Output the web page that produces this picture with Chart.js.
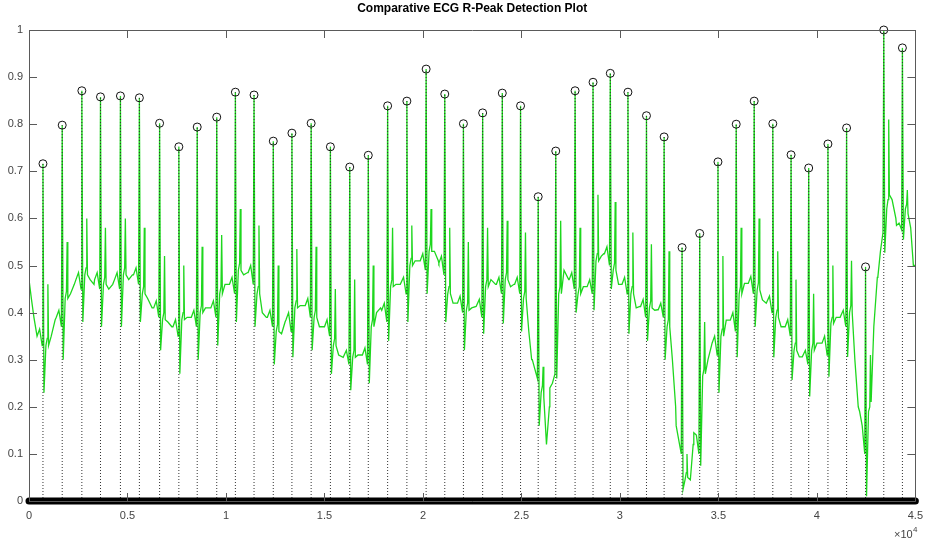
<!DOCTYPE html>
<html>
<head>
<meta charset="utf-8">
<title>Comparative ECG R-Peak Detection Plot</title>
<script src="https://cdn.jsdelivr.net/npm/chart.js@4.4.1/dist/chart.umd.min.js"></script>
<style>
  html, body { margin: 0; padding: 0; background: #fff; }
  #wrap { width: 931px; height: 540px; position: relative; }
</style>
</head>
<body>
<div id="wrap"><canvas id="ecgChart" width="931" height="540"></canvas></div>
<script>
const chartTitle = 'Comparative ECG R-Peak Detection Plot';
const xTickLabels = ['0', '0.5', '1', '1.5', '2', '2.5', '3', '3.5', '4', '4.5'];
const yTickLabels = ['0', '0.1', '0.2', '0.3', '0.4', '0.5', '0.6', '0.7', '0.8', '0.9', '1'];

// detected R-peaks (sample index, amplitude)
const peakSamples = [709, 1686, 2683, 3630, 4642, 5604, 6631, 7608, 8540, 9532,
    10478, 11425, 12402, 13348, 14325, 15302, 16284, 17226, 18208, 19185,
    20162, 21109, 22055, 23032, 24029, 24956, 25852, 26743, 27725, 28636,
    29512, 30408, 31349, 32245, 33156, 34052, 34979, 35905, 36817, 37763,
    38690, 39585, 40562, 41509, 42471, 43397, 44343];
const peakValues = [0.716, 0.798, 0.871, 0.858, 0.860, 0.856, 0.802, 0.752, 0.794, 0.815,
    0.868, 0.862, 0.764, 0.781, 0.802, 0.752, 0.709, 0.734, 0.839, 0.849,
    0.917, 0.864, 0.801, 0.824, 0.866, 0.839, 0.646, 0.743, 0.871, 0.889,
    0.908, 0.868, 0.818, 0.773, 0.538, 0.568, 0.720, 0.800, 0.849, 0.801,
    0.735, 0.707, 0.758, 0.792, 0.497, 1.000, 0.962];

// ECG trace around and between the R-peaks (sample index, amplitude)
const ecgTrace = [
    [0, 0.47], [120, 0.43], [250, 0.39],
    [409, 0.35], [539, 0.365], [669, 0.33], [759, 0.23], [859, 0.33], [924, 0.345], [959, 0.46], [994, 0.33], [1129, 0.35], [1330, 0.385],
    [1386, 0.39], [1516, 0.405], [1646, 0.37], [1736, 0.30], [1836, 0.43], [1901, 0.445], [1936, 0.55], [1971, 0.43], [2106, 0.44], [2300, 0.46],
    [2383, 0.47], [2513, 0.485], [2643, 0.45], [2733, 0.38], [2833, 0.48], [2898, 0.495], [2933, 0.60], [2968, 0.48], [3103, 0.47], [3300, 0.46],
    [3330, 0.47], [3460, 0.485], [3590, 0.45], [3680, 0.37], [3780, 0.46], [3845, 0.475], [3880, 0.58], [3915, 0.46], [4050, 0.45], [4250, 0.46],
    [4342, 0.47], [4472, 0.485], [4602, 0.45], [4692, 0.37], [4792, 0.48], [4857, 0.495], [4892, 0.60], [4927, 0.48], [5062, 0.47], [5250, 0.48],
    [5304, 0.48], [5434, 0.495], [5564, 0.46], [5654, 0.38], [5754, 0.44], [5819, 0.455], [5854, 0.58], [5889, 0.44], [6024, 0.43], [6250, 0.41],
    [6331, 0.41], [6461, 0.425], [6591, 0.39], [6681, 0.32], [6781, 0.385], [6846, 0.40], [6881, 0.52], [6916, 0.385], [7051, 0.38], [7250, 0.37],
    [7308, 0.37], [7438, 0.385], [7568, 0.35], [7658, 0.27], [7758, 0.385], [7823, 0.40], [7858, 0.50], [7893, 0.385], [8028, 0.39], [8200, 0.39],
    [8240, 0.39], [8370, 0.405], [8500, 0.37], [8590, 0.30], [8690, 0.40], [8755, 0.415], [8790, 0.54], [8825, 0.40], [8960, 0.41], [9150, 0.41],
    [9232, 0.41], [9362, 0.425], [9492, 0.39], [9582, 0.33], [9682, 0.44], [9747, 0.455], [9782, 0.565], [9817, 0.44], [9952, 0.46], [10150, 0.46],
    [10178, 0.46], [10308, 0.475], [10438, 0.44], [10528, 0.38], [10628, 0.49], [10693, 0.505], [10728, 0.62], [10763, 0.49], [10898, 0.48], [11100, 0.485],
    [11125, 0.485], [11255, 0.50], [11385, 0.46], [11475, 0.37], [11575, 0.44], [11640, 0.455], [11675, 0.585], [11710, 0.44], [11845, 0.40], [12050, 0.39],
    [12102, 0.39], [12232, 0.405], [12362, 0.37], [12452, 0.29], [12552, 0.36], [12617, 0.375], [12652, 0.50], [12687, 0.36], [12822, 0.355], [13000, 0.38],
    [13048, 0.385], [13178, 0.40], [13308, 0.36], [13398, 0.305], [13498, 0.41], [13563, 0.425], [13598, 0.535], [13633, 0.41], [13768, 0.415], [13980, 0.415],
    [14025, 0.415], [14155, 0.43], [14285, 0.39], [14375, 0.32], [14475, 0.39], [14540, 0.405], [14575, 0.54], [14610, 0.39], [14745, 0.37], [14950, 0.37],
    [15002, 0.37], [15132, 0.385], [15262, 0.35], [15352, 0.27], [15452, 0.33], [15517, 0.345], [15552, 0.45], [15587, 0.33], [15722, 0.31], [15950, 0.305],
    [15984, 0.305], [16114, 0.32], [16244, 0.29], [16334, 0.235], [16434, 0.305], [16499, 0.32], [16534, 0.47], [16569, 0.305], [16704, 0.31], [16900, 0.31],
    [16926, 0.31], [17056, 0.325], [17186, 0.29], [17276, 0.25], [17376, 0.37], [17441, 0.385], [17476, 0.50], [17511, 0.37], [17646, 0.40], [17850, 0.41],
    [17908, 0.405], [18038, 0.42], [18168, 0.38], [18258, 0.34], [18358, 0.455], [18423, 0.47], [18458, 0.58], [18493, 0.455], [18628, 0.46], [18850, 0.46],
    [18885, 0.46], [19015, 0.475], [19145, 0.44], [19235, 0.38], [19335, 0.50], [19400, 0.515], [19435, 0.585], [19470, 0.50], [19605, 0.51], [19820, 0.51],
    [19862, 0.51], [19992, 0.525], [20122, 0.49], [20212, 0.44], [20312, 0.53], [20377, 0.545], [20412, 0.62], [20447, 0.53], [20582, 0.53], [20780, 0.51],
    [20809, 0.505], [20939, 0.52], [21069, 0.48], [21159, 0.38], [21259, 0.44], [21324, 0.455], [21359, 0.58], [21394, 0.44], [21529, 0.42], [21720, 0.42],
    [21755, 0.42], [21885, 0.435], [22015, 0.40], [22105, 0.32], [22205, 0.405], [22270, 0.42], [22305, 0.55], [22340, 0.405], [22475, 0.41], [22700, 0.413],
    [22732, 0.413], [22862, 0.428], [22992, 0.39], [23082, 0.355], [23182, 0.455], [23247, 0.47], [23282, 0.58], [23317, 0.455], [23452, 0.47], [23690, 0.46],
    [23729, 0.46], [23859, 0.475], [23989, 0.44], [24079, 0.377], [24179, 0.47], [24244, 0.485], [24279, 0.595], [24314, 0.47], [24449, 0.455], [24620, 0.46],
    [24656, 0.46], [24786, 0.475], [24916, 0.44], [25006, 0.36], [25106, 0.43], [25171, 0.445], [25206, 0.57], [25241, 0.43], [25376, 0.36], [25520, 0.30],
    [25552, 0.30], [25682, 0.28], [25812, 0.26], [25902, 0.16], [26002, 0.23], [26067, 0.245], [26102, 0.285], [26137, 0.22], [26272, 0.12], [26420, 0.20],
    [26443, 0.24], [26573, 0.25], [26703, 0.27], [26793, 0.26], [26893, 0.44], [26958, 0.455], [26993, 0.595], [27028, 0.44], [27163, 0.49], [27400, 0.47],
    [27425, 0.47], [27555, 0.485], [27685, 0.45], [27775, 0.40], [27875, 0.44], [27940, 0.455], [27975, 0.58], [28010, 0.44], [28145, 0.455], [28300, 0.455],
    [28336, 0.455], [28466, 0.47], [28596, 0.44], [28686, 0.405], [28786, 0.51], [28851, 0.525], [28886, 0.65], [28921, 0.51], [29056, 0.52], [29180, 0.525],
    [29212, 0.525], [29342, 0.54], [29472, 0.50], [29562, 0.45], [29662, 0.49], [29727, 0.505], [29762, 0.635], [29797, 0.49], [29932, 0.46], [30080, 0.46],
    [30108, 0.46], [30238, 0.475], [30368, 0.44], [30458, 0.355], [30558, 0.44], [30623, 0.455], [30658, 0.57], [30693, 0.44], [30828, 0.41], [31020, 0.413],
    [31049, 0.413], [31179, 0.428], [31309, 0.39], [31399, 0.34], [31499, 0.41], [31564, 0.425], [31599, 0.545], [31634, 0.41], [31769, 0.405], [31920, 0.406],
    [31945, 0.406], [32075, 0.42], [32205, 0.39], [32295, 0.30], [32395, 0.37], [32460, 0.385], [32495, 0.53], [32530, 0.37], [32665, 0.30], [32830, 0.20],
    [32856, 0.16], [32986, 0.13], [33116, 0.10], [33206, 0.025], [33306, 0.045], [33371, 0.06], [33406, 0.10], [33441, 0.05], [33576, 0.045], [33720, 0.12],
    [33752, 0.145], [33882, 0.14], [34012, 0.10], [34102, 0.075], [34202, 0.265], [34267, 0.28], [34302, 0.38], [34337, 0.27], [34472, 0.30], [34650, 0.33],
    [34679, 0.335], [34809, 0.35], [34939, 0.31], [35029, 0.23], [35129, 0.35], [35194, 0.365], [35229, 0.52], [35264, 0.35], [35399, 0.384], [35580, 0.384],
    [35605, 0.384], [35735, 0.40], [35865, 0.36], [35955, 0.305], [36055, 0.44], [36120, 0.455], [36155, 0.58], [36190, 0.44], [36325, 0.462], [36490, 0.462],
    [36517, 0.462], [36647, 0.477], [36777, 0.44], [36867, 0.37], [36967, 0.448], [37032, 0.463], [37067, 0.60], [37102, 0.448], [37237, 0.427], [37430, 0.42],
    [37463, 0.42], [37593, 0.435], [37723, 0.40], [37813, 0.305], [37913, 0.39], [37978, 0.405], [38013, 0.53], [38048, 0.39], [38183, 0.37], [38360, 0.37],
    [38390, 0.37], [38520, 0.385], [38650, 0.35], [38740, 0.257], [38840, 0.32], [38905, 0.335], [38940, 0.47], [38975, 0.32], [39110, 0.306], [39260, 0.306],
    [39285, 0.306], [39415, 0.32], [39545, 0.29], [39635, 0.222], [39735, 0.32], [39800, 0.335], [39835, 0.44], [39870, 0.32], [40005, 0.335], [40230, 0.335],
    [40262, 0.335], [40392, 0.35], [40522, 0.31], [40612, 0.264], [40712, 0.377], [40777, 0.39], [40812, 0.50], [40847, 0.377], [40982, 0.39], [41180, 0.39],
    [41209, 0.39], [41339, 0.405], [41469, 0.37], [41559, 0.306], [41659, 0.40], [41724, 0.415], [41759, 0.51], [41794, 0.40], [41929, 0.30], [42100, 0.20],
    [42171, 0.19], [42301, 0.16], [42431, 0.10], [42521, 0.01], [42621, 0.19], [42686, 0.20], [42721, 0.31], [42756, 0.21], [42891, 0.37], [43070, 0.475],
    [43097, 0.476], [43227, 0.53], [43357, 0.57], [43447, 0.527], [43547, 0.62], [43612, 0.64], [43647, 0.81], [43682, 0.65], [43817, 0.64], [44010, 0.60],
    [44043, 0.585], [44173, 0.59], [44303, 0.576], [44393, 0.555], [44493, 0.62], [44558, 0.63], [44593, 0.66], [44628, 0.61], [44763, 0.58], [44900, 0.50],
    [45000, 0.50]
];

const baselineSpan = [0, 45000];

// trace + peaks, sorted along time
const signalData = ecgTrace.map(p => ({ x: p[0], y: p[1] }))
    .concat(peakSamples.map((s, i) => ({ x: s, y: peakValues[i] })))
    .sort((a, b) => a.x - b.x);

const stemData = [];
peakSamples.forEach((s, i) => {
    stemData.push({ x: s, y: 0 }, { x: s, y: peakValues[i] }, { x: s, y: null });
});

const markerData = peakSamples.map((s, i) => ({ x: s, y: peakValues[i] }));

const FONT = "'Liberation Sans', Arial, Helvetica, sans-serif";

// MATLAB style box, inward ticks, title and exponent label
const matlabFrame = {
    id: 'matlabFrame',
    afterDraw(chart) {
        const ctx = chart.ctx;
        const a = chart.chartArea;
        const xs = chart.scales.x;
        const ys = chart.scales.y;
        const tl = 8;
        ctx.save();
        ctx.strokeStyle = '#5a5a5a';
        ctx.lineWidth = 1;
        ctx.beginPath();
        ctx.rect(Math.round(a.left) + 0.5, Math.round(a.top) + 0.5,
            Math.round(a.right - a.left), Math.round(a.bottom - a.top));
        xs.ticks.forEach(t => {
            const px = Math.round(xs.getPixelForValue(t.value)) + 0.5;
            ctx.moveTo(px, a.bottom); ctx.lineTo(px, a.bottom - tl);
            ctx.moveTo(px, a.top); ctx.lineTo(px, a.top + tl);
        });
        ys.ticks.forEach(t => {
            const py = Math.round(ys.getPixelForValue(t.value)) + 0.5;
            ctx.moveTo(a.left, py); ctx.lineTo(a.left + tl, py);
            ctx.moveTo(a.right, py); ctx.lineTo(a.right - tl, py);
        });
        ctx.stroke();

        ctx.fillStyle = '#000';
        ctx.font = 'bold 12px ' + FONT;
        ctx.textAlign = 'center';
        ctx.textBaseline = 'middle';
        ctx.fillText(chartTitle, (a.left + a.right) / 2, 9);

        ctx.fillStyle = '#444';
        ctx.textAlign = 'left';
        ctx.textBaseline = 'alphabetic';
        ctx.font = '11px ' + FONT;
        ctx.fillText('\u00d710', 894, 538);
        ctx.font = '8px ' + FONT;
        ctx.fillText('4', 913, 532);
        ctx.restore();
    }
};

new Chart(document.getElementById('ecgChart'), {
    type: 'line',
    data: {
        datasets: [
            {
                label: 'R-peaks',
                type: 'scatter',
                data: markerData,
                order: 0,
                showLine: false,
                pointStyle: 'circle',
                pointRadius: 4,
                pointBorderWidth: 1,
                pointBorderColor: '#111',
                pointBackgroundColor: 'rgba(255,255,255,0)',
                clip: false
            },
            {
                label: 'zero markers',
                data: baselineSpan.map(x => ({ x: x, y: 0 })),
                order: 1,
                borderColor: '#000',
                borderWidth: 7,
                borderCapStyle: 'round',
                pointRadius: 0,
                clip: false
            },
            {
                label: 'stems',
                data: stemData,
                order: 2,
                borderColor: '#333',
                borderWidth: 1,
                borderDash: [1, 2],
                pointRadius: 0,
                spanGaps: false,
                clip: false
            },
            {
                label: 'ECG',
                data: signalData,
                order: 3,
                borderColor: 'rgb(30, 215, 30)',
                borderWidth: 1.3,
                pointRadius: 0,
                tension: 0
            }
        ]
    },
    options: {
        responsive: false,
        animation: false,
        events: [],
        layout: { padding: { top: 30, right: 13, left: 0, bottom: 0 } },
        plugins: {
            legend: { display: false },
            title: { display: false },
            tooltip: { enabled: false }
        },
        scales: {
            x: {
                type: 'linear',
                min: 0,
                max: 45000,
                grid: { display: false, drawTicks: false },
                border: { display: false },
                afterFit: s => { s.height = 39; },
                ticks: {
                    stepSize: 5000,
                    padding: 8,
                    maxRotation: 0,
                    autoSkip: false,
                    color: '#444',
                    font: { family: FONT, size: 11 },
                    callback: (v, i) => xTickLabels[i]
                }
            },
            y: {
                type: 'linear',
                min: 0,
                max: 1,
                grid: { display: false, drawTicks: false },
                border: { display: false },
                afterFit: s => { s.width = 29; },
                ticks: {
                    stepSize: 0.1,
                    padding: 6,
                    autoSkip: false,
                    color: '#444',
                    font: { family: FONT, size: 11 },
                    callback: (v, i) => yTickLabels[i]
                }
            }
        }
    },
    plugins: [matlabFrame]
});
</script>
</body>
</html>
